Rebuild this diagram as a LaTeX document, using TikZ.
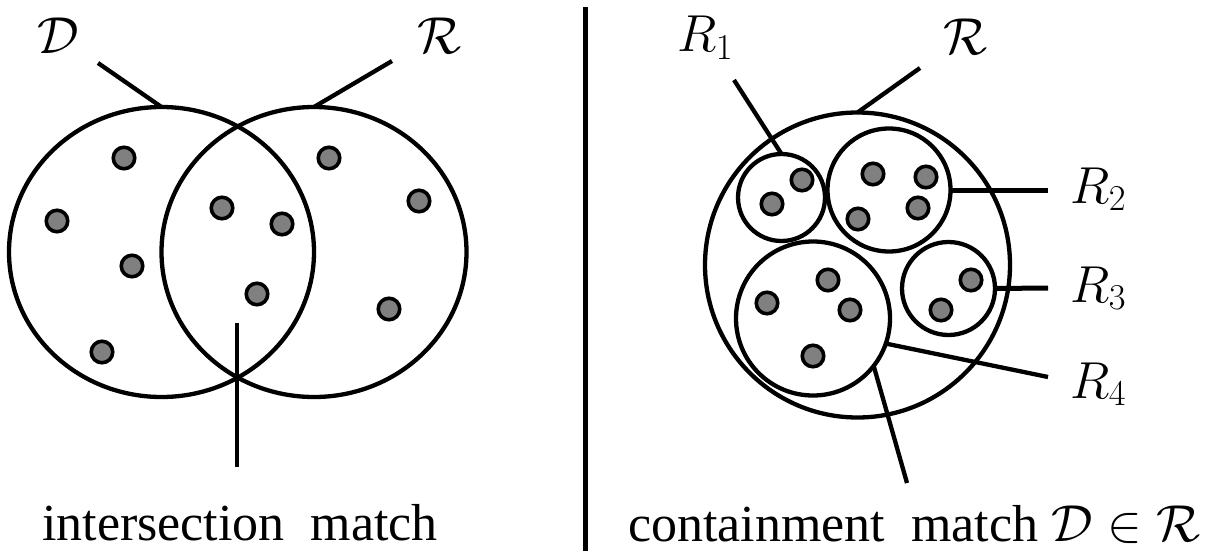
\documentclass[tikz,border=0pt]{standalone}
\usepackage{fix-cm}
\usepackage{fontspec}
\newfontfamily\timesfam{Liberation Serif}
\usetikzlibrary{shapes.geometric}
\definecolor{dotgray}{RGB}{128,128,128}
\begin{document}
\begin{tikzpicture}[x=1pt,y=-1pt,
  ring/.style={draw, circle, line width=4.3pt, inner sep=0pt, outer sep=0pt},
  oval/.style={draw, ellipse, line width=4.3pt, inner sep=0pt, outer sep=0pt, minimum width=305pt, minimum height=290pt},
  dot/.style={draw, circle, fill=dotgray, line width=3.6pt, minimum size=21.5pt, inner sep=0pt},
  lead/.style={line width=4.3pt},
  thicklead/.style={line width=5pt},
  lbl/.style={anchor=base west, inner sep=0pt, font=\fontsize{52}{60}\selectfont},
  txt/.style={anchor=base west, inner sep=0pt, font=\timesfam\fontsize{52}{60}\selectfont}]
\useasboundingbox (0,0) rectangle (1217,551);

% ---------- left: intersection match ----------
\node[oval] (Lc) at (161.5,252) {};
\node[oval] (Rc) at (314,252) {};
\foreach \n/\x/\y in {a/124/158, b/57/221, c/132/266, d/102/352, e/222/208, f/282/224, g/257/294, h/329/158, i/419/201, j/389/309}
  \node[dot] (dl\n) at (\x,\y) {};

\node[lbl] (labD) at (37,53) {$\mathcal{D}$};
\node[lbl] (labR) at (417,53) {$\mathcal{R}$};
\coordinate (dEnd) at (98,63);
\coordinate (rEnd) at (392,61);
\draw[lead] (dEnd) -- (Lc.north);
\draw[lead] (rEnd) -- (Rc.north);

\coordinate (iTop) at (237,323);
\coordinate (iBot) at (237,467);
\draw[lead] (iTop) -- (iBot);
\node[txt] (labI) at (42,540) {intersection\ \ match};

% ---------- separator ----------
\coordinate (sepTop) at (585,7);
\coordinate (sepBot) at (585,551);
\draw[line width=5pt] (sepTop) -- (sepBot);

% ---------- right: containment match ----------
\node[ring, minimum size=305pt] (big) at (857.5,265) {};
\node[ring, minimum size=87pt] (R1c) at (781.5,197.5) {};
\node[ring, minimum size=123pt] (R2c) at (889,190) {};
\node[ring, minimum size=93pt] (R3c) at (948.5,288.5) {};
\node[ring, minimum size=154pt] (R4c) at (813,318.5) {};

\foreach \n/\x/\y in {a/802/180, b/772/204, c/873/174, d/926/177, e/918/208, f/858/219, g/971/280, h/941/310, i/828/280, j/767/303, k/850/310, l/813/356}
  \node[dot] (dr\n) at (\x,\y) {};

\node[lbl] (labR1) at (677,52) {$R_1$};
\node[lbl] (labRR) at (943,55) {$\mathcal{R}$};
\node[lbl] (labR2) at (1070,203) {$R_2$};
\node[lbl] (labR3) at (1070,302) {$R_3$};
\node[lbl] (labR4) at (1070,398) {$R_4$};

\coordinate (r1End) at (734,80);
\coordinate (rrEnd) at (920,68);
\coordinate (r2End) at (1048,190);
\coordinate (r3End) at (1048,288);
\coordinate (r4End) at (1048,377);
\coordinate (cEnd) at (907,483);
\draw[lead] (r1End) -- (R1c.north);
\draw[lead] (rrEnd) -- (big.north);
\draw[thicklead] (R2c.east) -- (r2End);
\draw[thicklead] (R3c.east) -- (r3End);
\draw[lead] (R4c.-19) -- (r4End);
\draw[lead] (R4c.-38) -- (cEnd);

\node[txt] (labC) at (628,541) {containment\ \ match $\mathcal{D}\in\mathcal{R}$};
\end{tikzpicture}
\end{document}
